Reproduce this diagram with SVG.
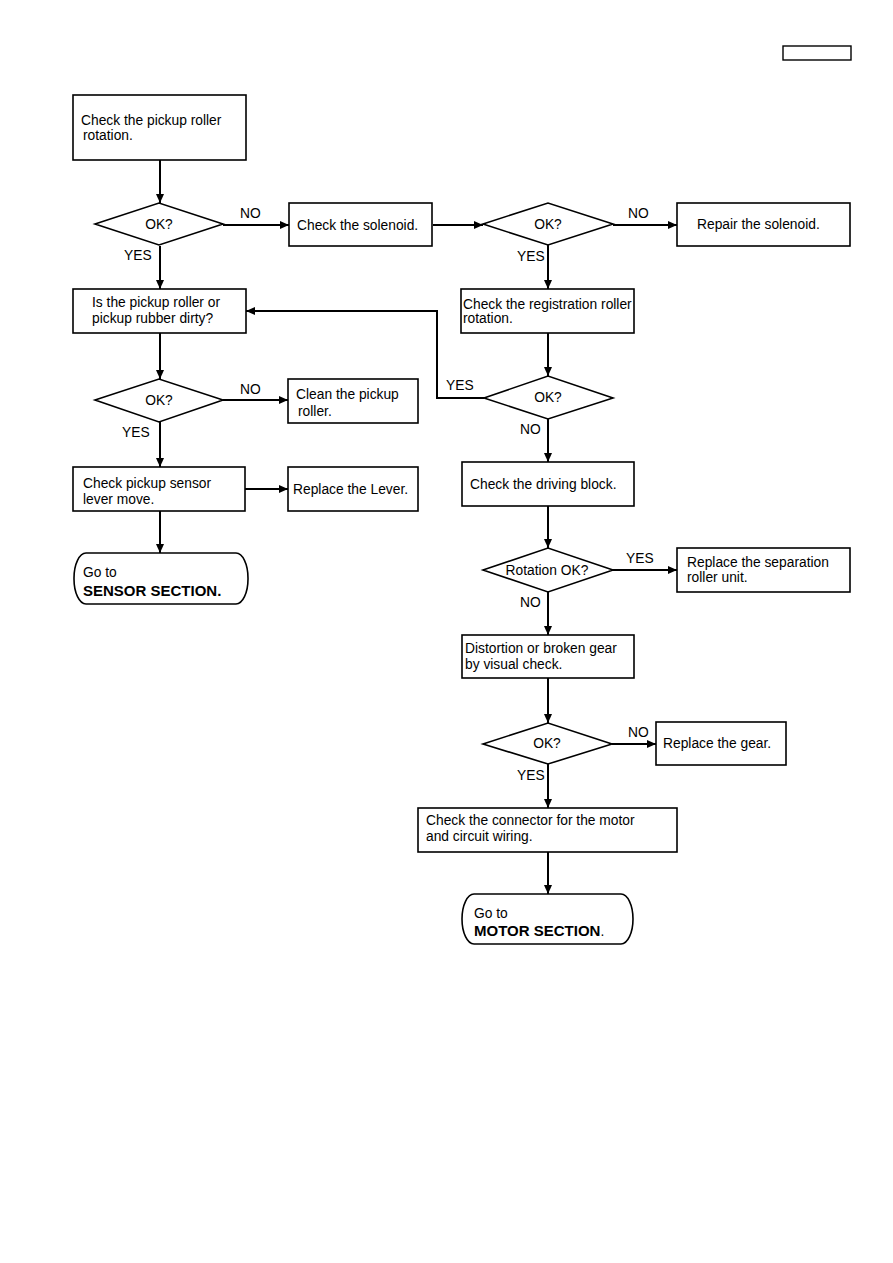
<svg xmlns="http://www.w3.org/2000/svg" width="893" height="1263" viewBox="0 0 893 1263">
<style>
.b{fill:#fff;stroke:#000;stroke-width:1.6}
.t{font-family:"Liberation Sans",Arial,sans-serif;font-size:13.8px;fill:#000}
.c{text-anchor:middle}
.bd{font-weight:bold;font-size:15px}
.l{fill:none;stroke:#000;stroke-width:2}
</style>
<defs>
<marker id="a" markerUnits="userSpaceOnUse" markerWidth="10" markerHeight="10" refX="9" refY="5" orient="auto">
<path d="M0,1 L9,5 L0,9 Z" fill="#000"/>
</marker>
</defs>
<rect x="0" y="0" width="893" height="1263" fill="#fff"/>
<rect x="783" y="46" width="68" height="14" fill="none" stroke="#000" stroke-width="1.4"/>
<g id="connectors">
<path class="l" d="M160,160 V203" marker-end="url(#a)"/>
<path class="l" d="M223,225 H289" marker-end="url(#a)"/>
<path class="l" d="M160,246 V289" marker-end="url(#a)"/>
<path class="l" d="M433,225 H483" marker-end="url(#a)"/>
<path class="l" d="M613,225 H677" marker-end="url(#a)"/>
<path class="l" d="M548,245 V289" marker-end="url(#a)"/>
<path class="l" d="M160,333 V379" marker-end="url(#a)"/>
<path class="l" d="M223,400 H288" marker-end="url(#a)"/>
<path class="l" d="M160,422 V467" marker-end="url(#a)"/>
<path class="l" d="M548,333 V376" marker-end="url(#a)"/>
<path class="l" d="M484,398 H437 V311 H246" marker-end="url(#a)"/>
<path class="l" d="M548,419 V462" marker-end="url(#a)"/>
<path class="l" d="M245,489 H288" marker-end="url(#a)"/>
<path class="l" d="M160,511 V553" marker-end="url(#a)"/>
<path class="l" d="M548,506 V548" marker-end="url(#a)"/>
<path class="l" d="M613,570 H677" marker-end="url(#a)"/>
<path class="l" d="M548,592 V635" marker-end="url(#a)"/>
<path class="l" d="M548,678 V723" marker-end="url(#a)"/>
<path class="l" d="M612,744 H656" marker-end="url(#a)"/>
<path class="l" d="M548,764 V808" marker-end="url(#a)"/>
<path class="l" d="M548,852 V894" marker-end="url(#a)"/>
<g class="t">
<text x="240" y="218">NO</text>
<text x="124" y="260">YES</text>
<text x="628" y="218">NO</text>
<text x="517" y="261">YES</text>
<text x="240" y="394">NO</text>
<text x="122" y="437">YES</text>
<text x="446" y="390">YES</text>
<text x="520" y="434">NO</text>
<text x="626" y="563">YES</text>
<text x="520" y="607">NO</text>
<text x="628" y="737">NO</text>
<text x="517" y="780">YES</text>
</g>
</g>
<g id="n1"><rect class="b" x="73" y="95" width="173" height="65"/><text class="t" x="81" y="125">Check the pickup roller</text><text class="t" x="83" y="140">rotation.</text></g>
<g id="d1"><polygon class="b" points="95,224 159,203 223,224 159,245"/><text class="t c" x="159" y="229">OK?</text></g>
<g id="n2"><rect class="b" x="289" y="203" width="143" height="43"/><text class="t" x="297" y="230">Check the solenoid.</text></g>
<g id="d2"><polygon class="b" points="483,224 548,203 613,224 548,245"/><text class="t c" x="548" y="229">OK?</text></g>
<g id="n3"><rect class="b" x="677" y="203" width="173" height="43"/><text class="t" x="697" y="229">Repair the solenoid.</text></g>
<g id="n4"><rect class="b" x="73" y="289" width="173" height="44"/><text class="t" x="92" y="307">Is the pickup roller or</text><text class="t" x="92" y="323">pickup rubber dirty?</text></g>
<g id="n5"><rect class="b" x="461" y="289" width="173" height="44"/><text class="t" x="463" y="309">Check the registration roller</text><text class="t" x="463" y="323">rotation.</text></g>
<g id="d3"><polygon class="b" points="95,400 159,379 223,400 159,422"/><text class="t c" x="159" y="405">OK?</text></g>
<g id="n6"><rect class="b" x="288" y="379" width="130" height="44"/><text class="t" x="296" y="399">Clean the pickup</text><text class="t" x="298" y="416">roller.</text></g>
<g id="d4"><polygon class="b" points="484,398 548,376 613,398 548,419"/><text class="t c" x="548" y="402">OK?</text></g>
<g id="n7"><rect class="b" x="462" y="462" width="172" height="44"/><text class="t" x="470" y="489">Check the driving block.</text></g>
<g id="n8"><rect class="b" x="73" y="467" width="172" height="44"/><text class="t" x="83" y="488">Check pickup sensor</text><text class="t" x="83" y="504">lever move.</text></g>
<g id="n9"><rect class="b" x="288" y="467" width="130" height="44"/><text class="t" x="293" y="494">Replace the Lever.</text></g>
<g id="t1"><rect class="b" x="74" y="553" width="174" height="51" rx="12" ry="25"/><text class="t" x="83" y="577">Go to</text><text class="t bd" x="83" y="596">SENSOR SECTION.</text></g>
<g id="d5"><polygon class="b" points="483,570 548,548 613,570 548,592"/><text class="t c" x="547" y="575">Rotation OK?</text></g>
<g id="n10"><rect class="b" x="677" y="548" width="173" height="44"/><text class="t" x="687" y="567">Replace the separation</text><text class="t" x="687" y="582">roller unit.</text></g>
<g id="n11"><rect class="b" x="462" y="635" width="172" height="43"/><text class="t" x="465" y="653">Distortion or broken gear</text><text class="t" x="465" y="669">by visual check.</text></g>
<g id="d6"><polygon class="b" points="483,744 548,723 612,744 548,764"/><text class="t c" x="547" y="748">OK?</text></g>
<g id="n12"><rect class="b" x="656" y="722" width="130" height="43"/><text class="t" x="663" y="748">Replace the gear.</text></g>
<g id="n13"><rect class="b" x="418" y="808" width="259" height="44"/><text class="t" x="426" y="825">Check the connector for the motor</text><text class="t" x="426" y="841">and circuit wiring.</text></g>
<g id="t2"><rect class="b" x="462" y="894" width="171" height="50" rx="12" ry="25"/><text class="t" x="474" y="918">Go to</text><text class="t" x="474" y="936"><tspan class="bd">MOTOR SECTION</tspan>.</text></g>
</svg>
